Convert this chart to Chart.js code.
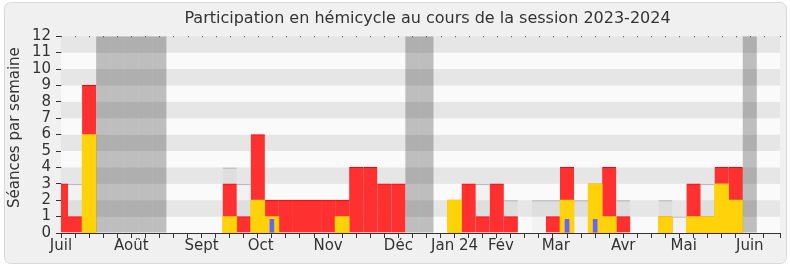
<!DOCTYPE html>
<html><head><meta charset="utf-8">
<script src="https://cdn.jsdelivr.net/npm/chart.js@4"></script>
<style>html,body{margin:0;padding:0;background:#fff}canvas{display:block}</style>
</head><body>
<canvas id="c" width="790" height="267" style="width:790px;height:267px"></canvas>
<script>
// Week index (0 = first week of July 2023)
const weeks = [0,1,2,3,4,5,6,7,8,9,10,11,12,13,14,15,16,17,18,19,20,21,22,23,24,25,
  26,27,28,29,30,31,32,33,34,35,36,37,38,39,40,41,42,43,44,45,46,47,48,49,50,51];

// Séances de présence (rouge)
const presences = [3,1,9,null,null,null,null,null,null,null,null,null,3,1,6,2,2,2,2,2,2,4,4,3,3,null,
  null,null,2,3,1,3,1,null,null,1,4,null,3,4,1,null,null,1,null,3,1,4,4,null,null,null];
// Séances avec intervention (jaune)
const interventions = [null,null,6,null,null,null,null,null,null,null,null,null,1,null,2,1,null,null,null,null,1,null,null,null,null,null,
  null,null,2,null,null,null,null,null,null,null,2,null,3,1,null,null,null,1,null,1,1,3,2,null,null,null];
// Questions orales (bleu)
const questions = [null,null,null,null,null,null,null,null,null,null,null,null,null,null,null,0.85,null,null,null,null,null,null,null,null,null,null,
  null,null,null,null,null,null,null,null,null,null,0.85,null,0.85,null,null,null,null,null,null,null,null,null,null,null,null,null];
// Médiane des députés (gris)
const mediane = [3,3,3,null,null,null,null,null,null,null,null,null,4,3,2,2,2,2,2,2,2,2,3,2,2,null,
  null,null,2,2,3,2,2,null,2,2,2,2,2,2,2,null,null,2,1,2,3,3,3,null,null,null];
// Vacances parlementaires
const vacances = [null,null,null,12,12,12,12,12,null,null,null,null,null,null,null,null,null,null,null,null,null,null,null,null,null,12,
  12,null,null,null,null,null,null,null,null,null,null,null,null,null,null,null,null,null,null,null,null,null,null,12,null,null];

// Month tick labels and their position (in weeks)
const monthNames = ['Juil','Août','Sept','Oct','Nov','Déc','Jan 24','Fév','Mar','Avr','Mai','Juin'];
const monthPos = [0,5,10,14.2,19,24,28,31.3,35.2,40,44.3,49];
const yTicks = [0,1,2,3,4,5,6,7,8,9,10,11,12];

const FONT = 'DejaVu Sans';
const TXT = '#333333';
const Y_TITLE = 'Séances par semaine';

const framePlugin = {
  id: 'frame',
  beforeDraw(chart) {
    const ctx = chart.ctx;
    ctx.save();
    ctx.fillStyle = '#ffffff';
    ctx.fillRect(0, 0, chart.width, chart.height);
    ctx.beginPath();
    ctx.roundRect(4.5, 2.5, chart.width - 8, chart.height - 6, 6);
    ctx.fillStyle = '#f0f0f0';
    ctx.fill();
    ctx.strokeStyle = '#d9d9d9';
    ctx.lineWidth = 1;
    ctx.stroke();
    ctx.restore();
  },
  afterDraw(chart) {
    const {ctx, chartArea: a} = chart;
    ctx.save();
    ctx.translate(15, (a.top + a.bottom) / 2 - 7);
    ctx.rotate(-Math.PI / 2);
    ctx.font = '15px "' + FONT + '"';
    ctx.fillStyle = TXT;
    ctx.textAlign = 'center';
    ctx.textBaseline = 'middle';
    ctx.fillText(Y_TITLE, 0, 0);
    ctx.restore();
  }
};

const bandsPlugin = {
  id: 'bands',
  beforeDatasetsDraw(chart) {
    const {ctx, chartArea: a, scales: {y}} = chart;
    ctx.save();
    for (let i = 0; i < yTicks.length - 1; i++) {
      const y0 = y.getPixelForValue(yTicks[i]);
      const y1 = y.getPixelForValue(yTicks[i + 1]);
      ctx.fillStyle = (i % 2 === 1) ? '#e6e6e6' : '#fafafa';
      ctx.fillRect(a.left, y1, a.right - a.left, y0 - y1);
    }
    ctx.restore();
  },
  afterDatasetsDraw(chart) {
    const {ctx, chartArea: a, scales: {x}} = chart;
    ctx.save();
    ctx.fillStyle = '#444';
    x.ticks.forEach(t => {
      const px = Math.round(x.getPixelForValue(t.value));
      ctx.fillRect(px, a.top, 1, 1);
    });
    ctx.restore();
  },
  afterLayout(chart) {
    if (chart.titleBlock) { chart.titleBlock.left += 7; chart.titleBlock.right += 7; }
  }
};

new Chart(document.getElementById('c'), {
  type: 'bar',
  data: {
    labels: weeks,
    datasets: [
      { label: 'Vacances', data: vacances, backgroundColor: 'rgba(0,0,0,0.24)', inflateAmount: 0, order: 0 },
      { label: 'Questions orales', data: questions, backgroundColor: '#6464ff', barPercentage: 0.33, order: 1 },
      { label: 'Interventions', data: interventions, backgroundColor: '#ffd20a', order: 2 },
      { label: 'Présences', data: presences, backgroundColor: 'rgb(254,48,48)', borderColor: '#ff0000',
        borderWidth: {top: 1, left: 0, right: 0, bottom: 0}, order: 3 },
      { label: 'Médiane', data: mediane, backgroundColor: 'rgba(0,0,0,0.03)', borderColor: '#a8a8a8',
        borderWidth: {top: 1, left: 0, right: 0, bottom: 0}, inflateAmount: 0, order: 4 }
    ]
  },
  options: {
    responsive: false,
    animation: false,
    devicePixelRatio: 1,
    grouped: false,
    categoryPercentage: 1,
    barPercentage: 1,
    datasets: { bar: { clip: 0, grouped: false, categoryPercentage: 1 } },
    layout: { padding: { left: 0, right: 10, top: 0, bottom: 0 } },
    plugins: {
      legend: { display: false },
      tooltip: { enabled: false },
      title: {
        display: true, text: 'Participation en hémicycle au cours de la session 2023-2024',
        color: TXT, font: { family: FONT, size: 16, weight: 'normal' },
        padding: { top: 9, bottom: 8 }, fullSize: false
      }
    },
    scales: {
      x: {
        type: 'linear', position: 'bottom', min: 0, max: 51.15, offset: false,
        ticks: { stepSize: 1, display: false, autoSkip: false },
        grid: { offset: false, drawOnChartArea: false, drawTicks: true, tickLength: 5, tickColor: '#333', tickWidth: 1 },
        border: { display: true, color: '#333', width: 1 }
      },
      xm: {
        type: 'linear', position: 'bottom', min: 0, max: 51.15, offset: false,
        afterBuildTicks(axis) { axis.ticks = monthPos.map(v => ({ value: v })); },
        ticks: { autoSkip: false, maxRotation: 0, padding: -1, color: TXT,
          font: { family: FONT, size: 15 },
          callback: (v, i) => monthNames[i] },
        grid: { display: false, drawTicks: false, offset: false },
        border: { display: false },
        afterFit(s) { s.height = 29; }
      },
      y: {
        min: 0, max: 12,
        ticks: { stepSize: 1, autoSkip: false, color: TXT, padding: 5, font: { family: FONT, size: 15 } },
        grid: { drawOnChartArea: false, tickLength: 5, tickColor: '#333' },
        border: { display: true, color: '#333', width: 1 },
        afterFit(s) { s.width = 61; }
      }
    }
  },
  plugins: [framePlugin, bandsPlugin]
});
</script>
</body></html>
